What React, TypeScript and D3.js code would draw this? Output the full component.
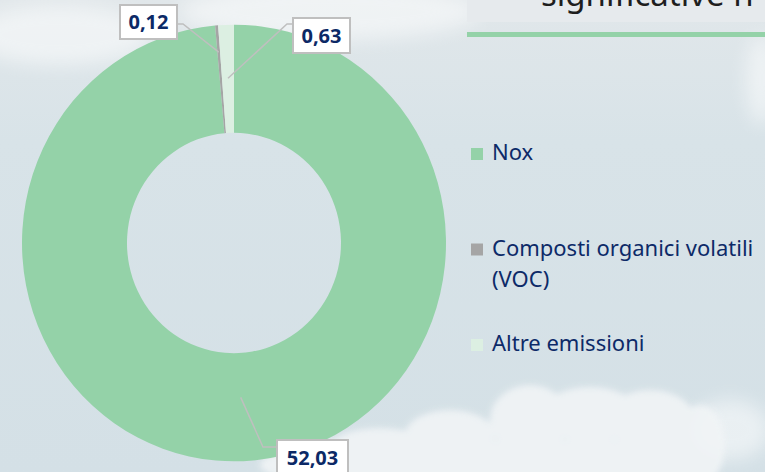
import React from "react";
import * as d3 from "d3";

// emissioni significative
const categories = ["Nox", "Composti organici volatili (VOC)", "Altre emissioni"];
const values = [52.03, 0.12, 0.63];
const valueLabels = ["52,03", "0,12", "0,63"];
const legendLines = [["Nox"], ["Composti organici volatili", "(VOC)"], ["Altre emissioni"]];
const sliceColors = ["#94d2a8", "#a5a5a5", "#dcefe2"];

const W = 765;
const H = 472;
const cx = 234;
const cy = 243;
const outerR = 212;
const innerR = 107;
const squash = 1.03;

// where each leader line starts (radius) and where its box sits
const labelLayout = [
  { r: 150, elbow: [263, 447], box: [277, 440, 71, 36], side: "left" },
  { r: 186, elbow: [183, 24], box: [120, 5, 57, 34], side: "right" },
  { r: 160, elbow: [287, 24], box: [293, 18, 57, 35], side: "left" },
];

export default function App() {
  const pie = d3.pie<number>().sort(null).startAngle(0).endAngle(2 * Math.PI);
  const arcs = pie(values);
  const arc = d3.arc<d3.PieArcDatum<number>>().innerRadius(innerR).outerRadius(outerR);

  const legendY = d3.scalePoint<number>().domain([0, 1, 2]).range([160, 351]);

  return (
    <div style={{ position: "fixed", left: 0, top: 0, width: W, height: H, overflow: "hidden" }}>
      <svg width={W} height={H} style={{ display: "block" }}>
        <defs>
          <linearGradient id="sky" x1="0" y1="0" x2="0" y2="1">
            <stop offset="0" stopColor="#e1e7ea" />
            <stop offset="0.3" stopColor="#d8e3e8" />
            <stop offset="1" stopColor="#d4e0e6" />
          </linearGradient>
          <filter id="blur" x="-30%" y="-30%" width="160%" height="160%">
            <feGaussianBlur stdDeviation="9" />
          </filter>
          <filter id="blur2" x="-30%" y="-30%" width="160%" height="160%">
            <feGaussianBlur stdDeviation="3" />
          </filter>
        </defs>
        <rect width={W} height={H} fill="url(#sky)" />
        {/* nuvole */}
        <g filter="url(#blur)" fill="#ffffff" opacity={0.5}>
          <ellipse cx={330} cy={12} rx={150} ry={28} />
          <ellipse cx={60} cy={35} rx={90} ry={30} />
          <ellipse cx={762} cy={80} rx={16} ry={45} />
          <ellipse cx={730} cy={430} rx={40} ry={30} />
        </g>
        <g filter="url(#blur2)" fill="#f1f4f6" opacity={0.9}>
          <ellipse cx={530} cy={420} rx={40} ry={35} />
          <ellipse cx={590} cy={415} rx={50} ry={28} />
          <ellipse cx={650} cy={420} rx={45} ry={30} />
          <ellipse cx={700} cy={445} rx={25} ry={40} />
          <ellipse cx={450} cy={435} rx={45} ry={25} />
          <ellipse cx={380} cy={448} rx={50} ry={20} />
          <ellipse cx={310} cy={465} rx={50} ry={15} />
          <rect x={320} y={440} width={390} height={40} />
        </g>

        {/* pannello titolo */}
        <rect x={467} y={0} width={W - 467} height={22} fill="#e6eaed" />
        <text x={541} y={6} fontFamily="'Noto Sans', sans-serif" fontSize={33} fill="#1e1e1e">
          significative n
        </text>
        <rect x={467} y={32} width={W - 467} height={5} fill="#94d2a8" />

        {/* ciambella */}
        <g transform={`translate(${cx},${cy}) scale(1,${squash})`}>
          {arcs.map((a, i) => (
            <path key={i} d={arc(a) || ""} fill={sliceColors[i]} />
          ))}
        </g>

        {/* etichette */}
        {arcs.map((a, i) => {
          const L = labelLayout[i];
          const mid = (a.startAngle + a.endAngle) / 2;
          const px = cx + Math.sin(mid) * L.r;
          const py = cy - Math.cos(mid) * L.r * squash;
          const [bx, by, bw, bh] = L.box;
          const ex = L.side === "left" ? bx : bx + bw;
          return (
            <g key={i}>
              <polyline
                points={`${px},${py} ${L.elbow[0]},${L.elbow[1]} ${ex},${L.elbow[1]}`}
                fill="none"
                stroke="#bfbfbf"
                strokeWidth={1.5}
              />
              <rect x={bx} y={by} width={bw} height={bh} fill="#ffffff" stroke="#bfbfbf" strokeWidth={2} />
              <text
                x={bx + bw / 2}
                y={by + bh / 2 + 7}
                textAnchor="middle"
                fontFamily="'Noto Sans', sans-serif"
                fontWeight="bold"
                fontSize={20}
                fill="#0c2966"
              >
                {valueLabels[i]}
              </text>
            </g>
          );
        })}

        {/* legenda */}
        {categories.map((c, i) => (
          <g key={c}>
            <rect x={471} y={legendY(i)! - 12} width={12} height={12} fill={sliceColors[i]} />
            {legendLines[i].map((t, j) => (
              <text
                key={j}
                x={492}
                y={legendY(i)! + j * 31}
                fontFamily="'Noto Sans', sans-serif"
                fontSize={22}
                fill="#0d2a68"
              >
                {t}
              </text>
            ))}
          </g>
        ))}
      </svg>
    </div>
  );
}
